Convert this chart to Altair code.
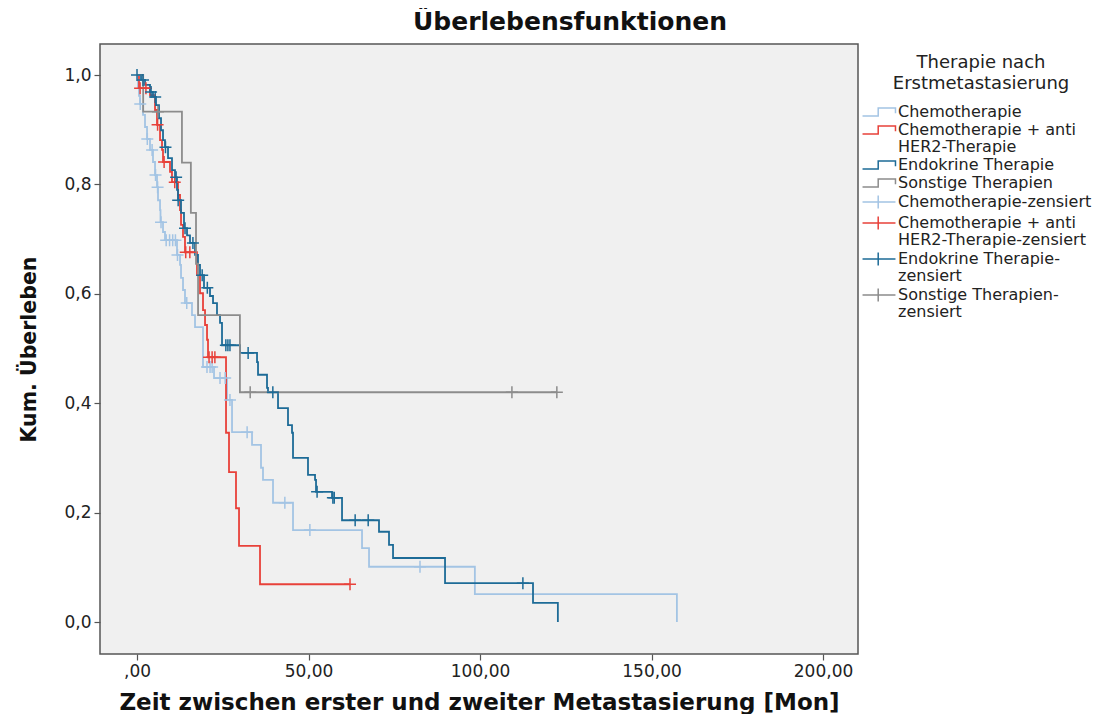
import altair as alt
import pandas as pd

# ---------------- categories / legend labels ----------------
LBL_CHEMO = "Chemotherapie"
LBL_HER2 = "Chemotherapie + anti|HER2-Therapie"
LBL_ENDO = "Endokrine Therapie"
LBL_SONST = "Sonstige Therapien"
LBL_CHEMO_Z = "Chemotherapie-zensiert"
LBL_HER2_Z = "Chemotherapie + anti|HER2-Therapie-zensiert"
LBL_ENDO_Z = "Endokrine Therapie-|zensiert"
LBL_SONST_Z = "Sonstige Therapien-|zensiert"

legend_domain = [LBL_CHEMO, LBL_HER2, LBL_ENDO, LBL_SONST,
                 LBL_CHEMO_Z, LBL_HER2_Z, LBL_ENDO_Z, LBL_SONST_Z]

C_LIGHT = "#a3c4e4"
C_RED = "#e8413a"
C_DARK = "#1d6b97"
C_GRAY = "#8c8c8c"
legend_colors = [C_LIGHT, C_RED, C_DARK, C_GRAY, C_LIGHT, C_RED, C_DARK, C_GRAY]

# ---------------- Kaplan-Meier data ----------------
chemo_event_t = [0.29, 0.58, 0.87, 1.75, 2.33, 2.92, 3.79, 4.66, 5.25, 5.83,
                 6.12, 6.71, 6.85, 7.58, 8.16, 11.66, 12.54, 12.83, 13.41, 13.99,
                 16.03, 16.91, 19.24, 22.45, 26.24, 27.7, 33.53, 36.15, 36.73, 39.65,
                 45.48, 65.6, 67.64, 98.5, 157.4]
chemo_surv = [0.976, 0.962, 0.947, 0.927, 0.905, 0.883, 0.863, 0.841, 0.817, 0.795,
              0.771, 0.753, 0.731, 0.713, 0.698, 0.671, 0.653, 0.629, 0.607, 0.583,
              0.561, 0.539, 0.466, 0.446, 0.406, 0.347, 0.324, 0.282, 0.260, 0.218,
              0.168, 0.135, 0.101, 0.051, 0.0]
chemo_cens_t = [0.95, 3.0, 4.4, 5.4, 6.0, 7.0, 8.5, 9.5, 10.4, 11.2, 11.8, 14.5,
                20.4, 21.3, 21.9, 24.2, 25.7, 27.1, 32.1, 43.1, 50.4, 82.5]

her2_event_t = [0.58, 3.79, 5.25, 5.83, 6.71, 7.29, 7.58, 9.62, 10.2, 11.95,
                12.54, 12.83, 13.41, 13.99, 17.49, 18.37, 19.24, 19.83, 20.41, 20.7,
                25.95, 26.82, 28.86, 29.74, 35.86]
her2_surv = [0.976, 0.963, 0.936, 0.909, 0.881, 0.863, 0.841, 0.823, 0.804, 0.781,
             0.753, 0.726, 0.704, 0.676, 0.634, 0.601, 0.570, 0.543, 0.516, 0.484,
             0.346, 0.274, 0.208, 0.139, 0.069]
her2_cens_t = [0.9, 2.6, 6.0, 7.9, 11.0, 14.2, 15.4, 21.0, 21.9, 22.7, 62.1]

endo_event_t = [1.17, 2.33, 3.79, 4.66, 5.54, 6.41, 7.0, 7.58, 8.16, 9.04,
                10.2, 11.08, 11.66, 11.95, 12.83, 13.7, 14.58, 15.45, 16.91, 17.78,
                18.37, 19.53, 21.28, 22.16, 23.32, 24.2, 24.78, 30.03, 34.99, 35.28,
                37.9, 38.19, 41.11, 44.02, 45.19, 45.48, 49.85, 51.9, 52.19, 56.85,
                59.77, 70.55, 73.47, 74.64, 89.8, 115.45, 122.7]
endo_surv = [0.991, 0.982, 0.969, 0.960, 0.945, 0.921, 0.899, 0.881, 0.868, 0.848,
             0.826, 0.813, 0.790, 0.771, 0.748, 0.720, 0.707, 0.693, 0.671, 0.653,
             0.634, 0.611, 0.596, 0.583, 0.561, 0.547, 0.506, 0.492, 0.475, 0.452,
             0.428, 0.420, 0.391, 0.360, 0.346, 0.300, 0.269, 0.260, 0.238, 0.227,
             0.186, 0.165, 0.141, 0.117, 0.071, 0.035, 0.0]
endo_cens_t = [0.0, 1.75, 4.1, 5.3, 8.3, 11.4, 12.0, 14.0, 16.3, 19.0, 20.5,
               25.9, 26.5, 27.1, 32.4, 39.6, 52.5, 57.1, 57.5, 63.6, 67.4, 112.5]

sonst_event_t = [1.8, 13.1, 15.7, 17.2, 17.8, 30.0]
sonst_surv = [0.933, 0.84, 0.748, 0.655, 0.561, 0.42]
sonst_cens_t = [6.1, 33.0, 109.3, 122.4]

series = [
    (LBL_CHEMO, LBL_CHEMO_Z, chemo_event_t, chemo_surv, chemo_cens_t),
    (LBL_HER2, LBL_HER2_Z, her2_event_t, her2_surv, her2_cens_t),
    (LBL_ENDO, LBL_ENDO_Z, endo_event_t, endo_surv, endo_cens_t),
    (LBL_SONST, LBL_SONST_Z, sonst_event_t, sonst_surv, sonst_cens_t),
]


def level_at(t, ev_t, ev_s):
    lvl = 1.0
    for te, se in zip(ev_t, ev_s):
        if te <= t:
            lvl = se
    return lvl


line_rows, cens_rows = [], []
for lbl, lbl_z, ev_t, ev_s, c_t in series:
    line_rows.append({"t": 0.0, "s": 1.0, "label": lbl})
    for te, se in zip(ev_t, ev_s):
        line_rows.append({"t": te, "s": se, "label": lbl})
    end_t = max(ev_t + c_t)
    if end_t > ev_t[-1]:
        line_rows.append({"t": end_t, "s": ev_s[-1], "label": lbl})
    for tc in c_t:
        cens_rows.append({"t": tc, "s": level_at(tc, ev_t, ev_s), "label": lbl_z})

lines_df = pd.DataFrame(line_rows)
cens_df = pd.DataFrame(cens_rows)

# ---------------- encodings ----------------
FONT = "DejaVu Sans"
PLUS = "M-1,0L1,0M0,-1L0,1"
# legend glyphs (drawn wider than the unit square on purpose)
STEP = "M-2.06,0.5L-0.1,0.5L-0.1,-0.5L2.06,-0.5L2.06,0.15"
CENS = "M-2.06,0L2.06,0M-0.1,-0.8L-0.1,0.8"

color_scale = alt.Scale(domain=legend_domain, range=legend_colors)
shape_scale = alt.Scale(domain=legend_domain, range=[STEP] * 4 + [CENS] * 4)

x_enc = alt.X(
    "t:Q",
    scale=alt.Scale(domain=[-10.79, 210.2], nice=False, zero=False),
    axis=alt.Axis(
        values=[0, 50, 100, 150, 200],
        labelExpr="datum.value == 0 ? ',00' : replace(format(datum.value, '.2f'), '.', ',')",
        title="Zeit zwischen erster und zweiter Metastasierung [Mon]",
        titleFontSize=23,
        titlePadding=12,
        labelPadding=3,
    ),
)
y_enc = alt.Y(
    "s:Q",
    scale=alt.Scale(domain=[-0.0585, 1.0567], nice=False, zero=False),
    axis=alt.Axis(
        values=[0, 0.2, 0.4, 0.6, 0.8, 1.0],
        labelExpr="replace(format(datum.value, '.1f'), '.', ',')",
        title="Kum. Überleben",
        titleFontSize=20.5,
        titlePadding=24,
        labelPadding=3,
    ),
)

legend = alt.Legend(
    title=["Therapie nach", "Erstmetastasierung"],
    orient="none",
    legendX=770,
    legendY=10,
    padding=0,
    titleFont=FONT,
    titleFontSize=18,
    titleFontWeight="normal",
    titleColor="#222222",
    titleAlign="center",
    titleAnchor="middle",
    titleLineHeight=21,
    titleLimit=400,
    titlePadding=10,
    labelFont=FONT,
    labelFontSize=16,
    labelColor="#222222",
    labelOffset=10,
    labelLimit=400,
    labelExpr="split(datum.label, '|')",
    symbolSize=256,
    symbolStrokeWidth=1.5,
    rowPadding=1,
)

lines = alt.Chart(lines_df).mark_line(interpolate="step-after", strokeWidth=1.8).encode(
    x=x_enc,
    y=y_enc,
    color=alt.Color("label:N", scale=color_scale, legend=legend),
    order="t:Q",
)

cens = alt.Chart(cens_df).mark_point(
    shape=PLUS, size=144, filled=False, strokeWidth=1.5, opacity=1
).encode(
    x=x_enc,
    y=y_enc,
    color=alt.Color("label:N", scale=color_scale, legend=legend),
)

legend_layer = alt.Chart(cens_df).transform_filter("false").mark_point(
    filled=False, strokeWidth=1.5, opacity=1
).encode(
    x=x_enc,
    y=y_enc,
    color=alt.Color("label:N", scale=color_scale, legend=legend),
    shape=alt.Shape("label:N", scale=shape_scale, legend=legend),
)

chart = alt.layer(lines, cens, legend_layer).properties(
    width=758,
    height=610,
    title=alt.TitleParams(
        text="Überlebensfunktionen",
        font=FONT,
        fontSize=25,
        fontWeight="bold",
        color="#111111",
        anchor="middle",
        offset=9,
        dx=91,
    ),
    autosize=alt.AutoSizeParams(type="none"),
    padding={"left": 92, "top": 36, "right": 254, "bottom": 60},
).configure(
    style={"guide-label": {"lineHeight": 17}}
).configure_view(
    fill="#f0f0f0", stroke="#555555", strokeWidth=1.5
).configure_axis(
    domain=False,
    grid=False,
    tickColor="#555555",
    tickSize=6,
    tickWidth=1.2,
    labelFont=FONT,
    labelFontSize=17,
    labelColor="#222222",
    titleFont=FONT,
    titleFontWeight="bold",
    titleColor="#111111",
)

chart.save("out.html", embed_options={"renderer": "svg", "actions": False})
